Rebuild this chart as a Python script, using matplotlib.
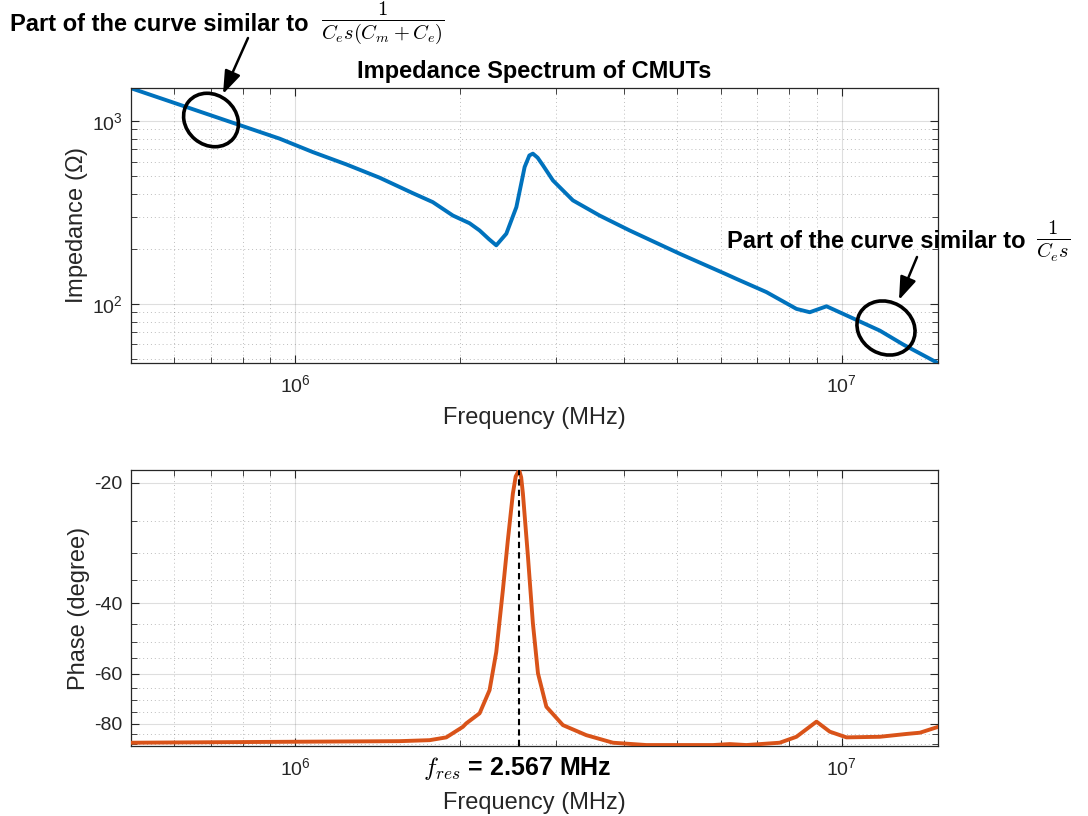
import numpy as np
import matplotlib
matplotlib.use("Agg")
import matplotlib.pyplot as plt
from matplotlib.patches import Ellipse
from matplotlib.ticker import FixedLocator, NullFormatter

plt.rcParams['font.family'] = ['Liberation Sans', 'DejaVu Sans']
plt.rcParams['mathtext.fontset'] = 'custom'
plt.rcParams['mathtext.rm'] = 'Liberation Sans'
plt.rcParams['mathtext.it'] = 'Liberation Sans:italic'
plt.rcParams['mathtext.bf'] = 'Liberation Sans:bold'

# ---------------- data ----------------
imp_freq = [5.0e5, 9.35e5, 1.076e6, 1.239e6, 1.425e6, 1.640e6, 1.784e6, 1.942e6,
            2.083e6, 2.173e6, 2.260e6, 2.331e6, 2.432e6, 2.537e6, 2.627e6, 2.680e6,
            2.720e6, 2.775e6, 2.838e6, 2.960e6, 3.220e6, 3.604e6, 4.090e6, 5.050e6,
            6.150e6, 6.413e6, 7.278e6, 8.260e6, 8.737e6, 9.376e6, 1.0056e7, 1.174e7,
            1.296e7, 1.491e7]
imp_mag = [1511, 801, 676, 579, 490, 403, 360, 304,
           276, 252, 226, 209, 242, 338, 560, 648,
           663, 630, 572, 473, 368, 304, 252, 188,
           145, 137, 116, 93.9, 90, 97, 88.2, 71.4,
           59.9, 47.9]

ph_freq = [5.0e5, 1.0e6, 1.55e6, 1.76e6, 1.888e6, 2.025e6, 2.054e6, 2.173e6,
           2.266e6, 2.331e6, 2.397e6, 2.448e6, 2.500e6, 2.530e6, 2.567e6, 2.589e6,
           2.608e6, 2.664e6, 2.720e6, 2.779e6, 2.879e6, 3.087e6, 3.407e6, 3.812e6,
           4.388e6, 4.707e6, 5.813e6, 6.236e6, 6.690e6, 7.698e6, 8.260e6, 8.989e6,
           9.507e6, 1.020e7, 1.174e7, 1.314e7, 1.390e7, 1.501e7]
ph_deg = [-89.3, -88.8, -88.5, -88.0, -86.6, -81.5, -79.9, -75.4,
          -66.0, -53.0, -37.1, -27.8, -21.3, -19.3, -18.6, -19.4,
          -21.3, -30.6, -44.9, -59.9, -72.6, -80.7, -85.5, -89.3,
          -90.5, -90.5, -90.5, -90.0, -90.5, -89.3, -86.3, -79.1,
          -83.8, -86.6, -86.3, -84.9, -84.3, -81.5]

f_res = 2.567e6
ph_yticks = [-80, -60, -40, -20]
ph_minor = [-90, -85, -75, -70, -65, -55, -50, -45, -35, -30, -25]

BLUE = '#0072BD'
ORANGE = '#D95319'
GRIDC = '#262626'
TXT = '#262626'

fig = plt.figure(figsize=(10.88, 8.16), dpi=100)
W, H = 1088, 816
ax1 = fig.add_axes([131 / W, 1 - 363 / H, (938 - 131) / W, 275 / H])
ax2 = fig.add_axes([131 / W, 1 - 746 / H, (938 - 131) / W, 276 / H])


def style(ax):
    ax.tick_params(which='both', direction='in', top=True, right=True,
                   colors=TXT, labelsize=14)
    ax.tick_params(axis='x', which='both', pad=8)
    ax.tick_params(axis='y', which='both', pad=6)
    ax.tick_params(which='major', length=6, width=0.8)
    ax.tick_params(which='minor', length=4, width=0.6)
    for s in ax.spines.values():
        s.set_color(TXT)
        s.set_linewidth(0.9)
    ax.grid(True, which='major', color=GRIDC, alpha=0.15, lw=0.8, ls='-')
    ax.grid(True, which='minor', color=GRIDC, alpha=0.3, lw=0.7, ls=(0, (1, 3)))
    ax.set_axisbelow(True)


# ---- top: impedance ----
ax1.plot(imp_freq, imp_mag, color=BLUE, lw=2.8, solid_joinstyle='round',
         solid_capstyle='round')
ax1.set_xscale('log')
ax1.set_yscale('log')
ax1.set_xlim(5e5, 1.5e7)
ax1.set_ylim(47.5, 1515)
style(ax1)
ax1.set_xlabel('Frequency (MHz)', fontsize=17, color=TXT, labelpad=8)
ax1.set_ylabel('Impedance ($\\Omega$)', fontsize=17, color=TXT, labelpad=1)
ax1.set_title('Impedance Spectrum of CMUTs', fontsize=17, fontweight='bold', pad=7)

# ---- bottom: phase ----
fwd = lambda y: -np.log10(np.clip(-np.asarray(y, dtype=float), 1e-6, None))
inv = lambda t: -10.0 ** (-np.asarray(t, dtype=float))
ax2.plot(ph_freq, ph_deg, color=ORANGE, lw=2.8, solid_joinstyle='round',
         solid_capstyle='round', zorder=3)
ax2.set_xscale('log')
ax2.set_yscale('function', functions=(fwd, inv))
ax2.set_xlim(5e5, 1.5e7)
ax2.set_ylim(-91, -18.6)
ax2.yaxis.set_major_locator(FixedLocator(ph_yticks))
ax2.yaxis.set_minor_locator(FixedLocator(ph_minor))
ax2.yaxis.set_minor_formatter(NullFormatter())
ax2.set_yticklabels([str(v) for v in ph_yticks])
style(ax2)
ax2.axvline(f_res, color='k', ls='--', lw=1.5, dashes=(3, 2), zorder=4)
ax2.set_xlabel('Frequency (MHz)', fontsize=17, color=TXT, labelpad=9)
ax2.set_ylabel('Phase (degree)', fontsize=17, color=TXT, labelpad=3)

# ---- overlay for annotations (pixel coordinates) ----
ov = fig.add_axes([0, 0, 1, 1], zorder=10)
ov.set_xlim(0, W)
ov.set_ylim(H, 0)
ov.axis('off')
ov.patch.set_alpha(0)

ov.text(10, 31, 'Part of the curve similar to', fontsize=17, fontweight='bold',
        va='baseline', ha='left')
ov.text(321, 23, r'$\frac{1}{C_e s(C_m+C_e)}$', fontsize=21, math_fontfamily='cm',
        va='center', ha='left')
ov.text(727, 248, 'Part of the curve similar to', fontsize=17, fontweight='bold',
        va='baseline', ha='left')
ov.text(1036, 241, r'$\frac{1}{C_e s}$', fontsize=21, math_fontfamily='cm',
        va='center', ha='left')

ov.add_patch(Ellipse((211, 120), 58, 50, angle=40, fill=False, ec='k', lw=2.6))
ov.add_patch(Ellipse((886, 328), 60, 52, angle=30, fill=False, ec='k', lw=2.6))
arrow_kw = dict(arrowstyle='-|>,head_length=0.7,head_width=0.25', color='k',
                lw=1.8, mutation_scale=20, shrinkA=0, shrinkB=0)
ov.annotate('', xy=(223, 94), xytext=(248, 38), arrowprops=arrow_kw)
ov.annotate('', xy=(899, 300), xytext=(917, 257), arrowprops=arrow_kw)

ov.text(517, 775, r'$f_{res}$ = 2.567 MHz', fontsize=18, fontweight='bold',
        math_fontfamily='cm', va='baseline', ha='center')

fig.savefig('out.png', dpi=100)
